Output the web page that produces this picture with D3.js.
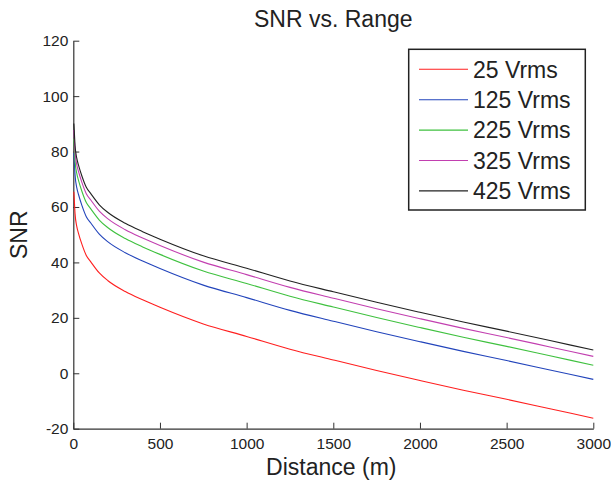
<!DOCTYPE html>
<html>
<head>
<meta charset="utf-8">
<script src="https://cdn.jsdelivr.net/npm/d3@7/dist/d3.min.js"></script>
<style>
  body { margin: 0; background: #fff; }
  svg { font-family: "Liberation Sans", Arial, sans-serif; }
</style>
</head>
<body>
<svg id="chart"></svg>
<script>
// distances (m) the curves were read at
let distances = [3, 5, 10, 20, 30, 50, 75, 100, 150, 200, 300, 400, 500, 750, 1000, 1250, 1500, 1750, 2000, 2250, 2500, 2750, 3000];

let snr25 = [65.5, 63.5, 57.7, 53.0, 50.5, 46.5, 42.5, 40.3, 36.2, 33.4, 29.5, 26.5, 23.8, 17.8, 13.3, 8.7, 4.8, 1.0, -2.6, -6.1, -9.4, -12.8, -16.2];
let snr125 = [79.5, 77.5, 71.7, 67.0, 64.5, 60.5, 56.5, 54.3, 50.2, 47.4, 43.5, 40.5, 37.8, 31.8, 27.3, 22.7, 18.8, 15.0, 11.4, 7.9, 4.6, 1.2, -2.2];
let snr225 = [84.6, 82.6, 76.8, 72.1, 69.6, 65.6, 61.6, 59.4, 55.3, 52.5, 48.6, 45.6, 42.9, 36.9, 32.4, 27.8, 23.9, 20.1, 16.5, 13.0, 9.7, 6.3, 2.9];
let snr325 = [87.8, 85.8, 80.0, 75.3, 72.8, 68.8, 64.8, 62.6, 58.5, 55.7, 51.8, 48.8, 46.1, 40.1, 35.6, 31.0, 27.1, 23.3, 19.7, 16.2, 12.9, 9.5, 6.1];
let snr425 = [90.1, 88.1, 82.3, 77.6, 75.1, 71.1, 67.1, 64.9, 60.8, 58.0, 54.1, 51.1, 48.4, 42.4, 37.9, 33.3, 29.4, 25.6, 22.0, 18.5, 15.2, 11.8, 8.4];

let seriesNames = ["25 Vrms", "125 Vrms", "225 Vrms", "325 Vrms", "425 Vrms"];
let seriesValues = [snr25, snr125, snr225, snr325, snr425];
let colors = ["#ff1f1f", "#2244bb", "#3fc13f", "#c23fb0", "#222222"];

let xTicks = [0, 500, 1000, 1500, 2000, 2500, 3000];
let yTicks = [-20, 0, 20, 40, 60, 80, 100, 120];

let width = 611;
let height = 481;
let plotLeft = 73.3, plotRight = 593.3, plotTop = 40.7, plotBottom = 428.7;

let svg = d3.select("#chart").attr("width", width).attr("height", height);

let xScale = d3.scaleLinear().domain([0, 3000]).range([plotLeft, plotRight]);
let yScale = d3.scaleLinear().domain([-20, 120]).range([plotBottom, plotTop]);

// axes, MATLAB style: ticks point inward, plain number labels
let plain = (d) => String(d);
let xAxis = d3.axisBottom(xScale).tickValues(xTicks).tickFormat(plain)
  .tickSizeInner(-6).tickSizeOuter(0).tickPadding(9);
let yAxis = d3.axisLeft(yScale).tickValues(yTicks).tickFormat(plain)
  .tickSizeInner(-6).tickSizeOuter(0).tickPadding(5);

let gx = svg.append("g")
  .attr("transform", "translate(0," + plotBottom + ")")
  .call(xAxis);
let gy = svg.append("g")
  .attr("transform", "translate(" + plotLeft + ",0)")
  .call(yAxis);

[gx, gy].forEach((g) => {
  g.select(".domain").attr("stroke", "#333").attr("stroke-width", 1.2);
  g.selectAll(".tick line").attr("stroke", "#333");
  g.selectAll(".tick text")
    .attr("fill", "#222")
    .style("font-size", "15.5px")
    .style("font-family", "Liberation Sans, Arial, sans-serif");
});

// lines
let line = d3.line()
  .x((d) => xScale(d[0]))
  .y((d) => yScale(d[1]))
  .curve(d3.curveMonotoneX);

seriesValues.forEach((vals, i) => {
  svg.append("path")
    .datum(distances.map((d, j) => [d, vals[j]]))
    .attr("fill", "none")
    .attr("stroke", colors[i])
    .attr("stroke-width", 1.1)
    .attr("d", line);
});

// title and labels
svg.append("text")
  .attr("x", (plotLeft + plotRight) / 2)
  .attr("y", 26.5)
  .attr("text-anchor", "middle")
  .style("font-size", "23px")
  .attr("fill", "#222")
  .text("SNR vs. Range");

svg.append("text")
  .attr("x", (plotLeft + plotRight) / 2 - 2)
  .attr("y", 475)
  .attr("text-anchor", "middle")
  .style("font-size", "23px")
  .attr("fill", "#222")
  .text("Distance (m)");

svg.append("text")
  .attr("transform", "translate(27," + (plotTop + plotBottom) / 2 + ") rotate(-90)")
  .attr("text-anchor", "middle")
  .style("font-size", "23px")
  .attr("fill", "#222")
  .text("SNR");

//==========================
// legend
//==========================
let legend = svg.append("g").attr("id", "legend");
legend.append("rect")
  .attr("x", 408.7)
  .attr("y", 49.3)
  .attr("width", 176.6)
  .attr("height", 160.7)
  .attr("fill", "#fff")
  .attr("stroke", "#222")
  .attr("stroke-width", 1.5);

let rows = legend.selectAll(".legend-label")
  .data(seriesNames)
  .enter()
  .append("g")
  .attr("class", "legend-label")
  .attr("transform", (d, i) => "translate(0," + (69.3 + i * 30.4) + ")");

rows.append("line")
  .attr("x1", 419)
  .attr("x2", 468)
  .attr("stroke", (d, i) => colors[i])
  .attr("stroke-width", 1.1);

rows.append("text")
  .attr("x", 473)
  .attr("dy", "0.36em")
  .style("font-size", "23px")
  .attr("fill", "#222")
  .text((d) => d);
</script>
</body>
</html>
